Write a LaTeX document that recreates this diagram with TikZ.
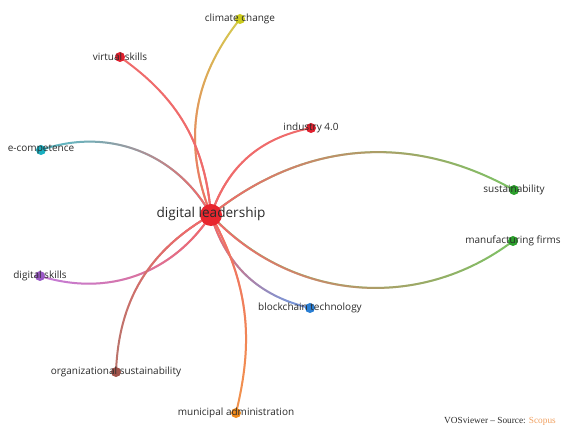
\documentclass[tikz,border=0pt]{standalone}
\usepackage{fontspec}
\setmainfont{Open Sans}
\newfontfamily\notefont{Liberation Serif}
\usetikzlibrary{backgrounds,fadings}

\tikzfading[name=fade red, left color=transparent!0, right color=transparent!100]

\definecolor{labelgray}{HTML}{2A2A2A}
\definecolor{leadred}{HTML}{E8262E}
\definecolor{leadedge}{HTML}{EF6B6B}
\definecolor{climatecol}{HTML}{CBCB1E}
\definecolor{climateedge}{HTML}{D6C650}
\definecolor{redcol}{HTML}{E0202E}
\definecolor{tealcol}{HTML}{1AAFC0}
\definecolor{tealedge}{HTML}{5DBAC5}
\definecolor{greencol}{HTML}{2CA02C}
\definecolor{greenedge}{HTML}{7AC465}
\definecolor{purplecol}{HTML}{9B59C6}
\definecolor{purpleedge}{HTML}{C67CD4}
\definecolor{bluecol}{HTML}{2A7FD4}
\definecolor{blueedge}{HTML}{7A96D8}
\definecolor{browncol}{HTML}{A0524A}
\definecolor{brownedge}{HTML}{BC736B}
\definecolor{orangecol}{HTML}{F08A1C}
\definecolor{orangeedge}{HTML}{F2944C}
\definecolor{scopusorange}{HTML}{F0A060}

\begin{document}
\begin{tikzpicture}[x=1pt,y=1pt,
    dot/.style={circle, inner sep=0pt, minimum size=10pt},
    term/.style={text=labelgray, inner sep=0pt, font=\fontsize{10}{12}\selectfont},
    link/.style={line width=2pt, line cap=round}]
  \useasboundingbox (0,0) rectangle (562,425);

  % keywords
  \node[dot, fill=leadred, minimum size=22pt] (lead) at (211,210) {};
  \node[dot, fill=climatecol] (climate) at (240,406) {};
  \node[dot, fill=redcol] (virtual) at (120,368) {};
  \node[dot, fill=redcol] (industry) at (311,297) {};
  \node[dot, fill=tealcol] (ecomp) at (41,275) {};
  \node[dot, fill=greencol] (sustain) at (514,235) {};
  \node[dot, fill=greencol] (manuf) at (513,184) {};
  \node[dot, fill=purplecol] (dskills) at (40,149) {};
  \node[dot, fill=bluecol] (block) at (310,117) {};
  \node[dot, fill=browncol] (orgsus) at (116,53) {};
  \node[dot, fill=orangecol] (munic) at (236,12) {};

  % links
  \begin{scope}[on background layer]
    \foreach \n/\c/\b/\a in {climate/climateedge/30/82, virtual/leadedge/-25/120,
        industry/leadedge/30/41, ecomp/tealedge/-40/159, sustain/greenedge/34/5,
        manuf/greenedge/-42/-5, dskills/purpleedge/37/200, block/blueedge/-30/-43,
        orgsus/brownedge/-29/239, munic/orangeedge/21/-83}
    {
      \draw[link, color=\c] (lead.center) to[bend left=\b] (\n.center);
      \draw[link, color=leadedge, path fading=fade red, fit fading=true, fading angle=\a]
        (lead.center) to[bend left=\b] (\n.center);
    }
  \end{scope}

  % labels
  \node[term, font=\fontsize{13.6}{16}\selectfont] (lead label) at ([yshift=1pt]lead) {digital leadership};
  \node[term] (climate label) at ([yshift=0.5pt]climate) {climate change};
  \node[term] (virtual label) at ([yshift=0.5pt]virtual) {virtual skills};
  \node[term] (industry label) at (industry) {industry 4.0};
  \node[term] (ecomp label) at ([yshift=0.5pt]ecomp) {e-competence};
  \node[term] (sustain label) at ([yshift=0.5pt]sustain) {sustainability};
  \node[term] (manuf label) at ([yshift=0.5pt]manuf) {manufacturing firms};
  \node[term] (dskills label) at ([yshift=0.5pt]dskills) {digital skills};
  \node[term] (block label) at ([yshift=0.5pt]block) {blockchain technology};
  \node[term] (orgsus label) at ([yshift=0.5pt]orgsus) {organizational sustainability};
  \node[term] (munic label) at ([yshift=0.5pt]munic) {municipal administration};

  \node[anchor=base, inner sep=0pt, text=labelgray, font=\notefont\fontsize{9.3}{11}\selectfont]
    (source) at (500,1.5) {VOSviewer – Source: \textcolor{scopusorange}{Scopus}};
\end{tikzpicture}
\end{document}
